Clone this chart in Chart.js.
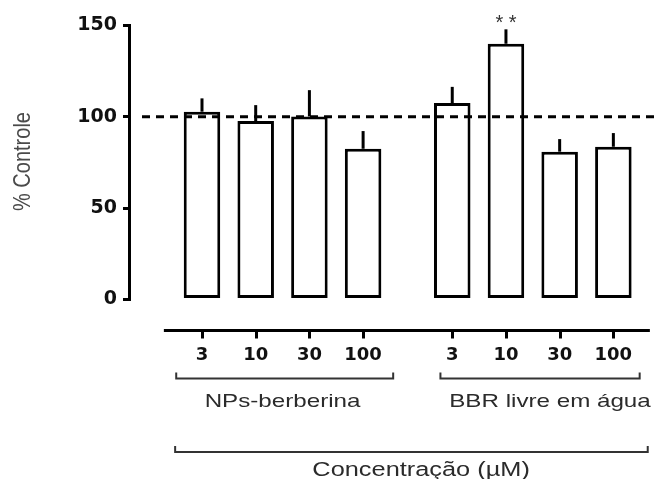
<!DOCTYPE html>
<html>
<head>
<meta charset="utf-8">
<script src="https://cdn.jsdelivr.net/npm/chart.js@4/dist/chart.umd.min.js"></script>
<style>
  html, body { margin: 0; padding: 0; background: #fff; }
  canvas { display: block; }
</style>
</head>
<body>
<canvas id="chart" width="656" height="479"></canvas>
<script>
// Viability (% of control) after berberine exposure, mean + SEM
const doseLabels = ['3', '10', '30', '100', '3', '10', '30', '100'];
const barPositions = [0, 1, 2, 3, 4.66, 5.66, 6.66, 7.66];
const meanValues = [102.8, 97.7, 100.2, 82.5, 107.5, 140, 80.9, 83.6];
const semValues = [7.3, 8.7, 14.4, 9.7, 8.9, 7.9, 6.9, 7.5];
const significance = ['', '', '', '', '', '* *', '', ''];
const yTickValues = [0, 50, 100, 150];
const groupNames = ['NPs-berberina', 'BBR livre em água'];
const axisTitleY = '% Controle';
const axisTitleX = 'Concentração (µM)';
const controlLevel = 100;

// bracket spans and label centres, in x-axis units
const groupBrackets = [[-0.48, 3.56], [4.44, 8.15]];
const groupLabelCenters = [1.5, 6.48];
const outerBracket = [-0.5, 8.30];
const outerLabelCenter = 4.08;
const xAxisSpan = [-0.71, 8.34];

const TEXT_STRETCH = 1.3;

function stretchedText(ctx, text, x, y, font, color, sx) {
  ctx.save();
  ctx.font = font;
  ctx.fillStyle = color;
  ctx.textAlign = 'center';
  ctx.textBaseline = 'alphabetic';
  ctx.translate(x, y);
  ctx.scale(sx, 1);
  ctx.fillText(text, 0, 0);
  ctx.restore();
}

function bracket(ctx, x1, x2, y, h) {
  ctx.beginPath();
  ctx.moveTo(x1, y - h);
  ctx.lineTo(x1, y);
  ctx.lineTo(x2, y);
  ctx.lineTo(x2, y - h);
  ctx.stroke();
}

// vertical value axis, running only from 0 to 150
function drawYAxisLine(chart) {
  const ctx = chart.ctx;
  const area = chart.chartArea;
  const ys = chart.scales.y;
  const yTop = ys.getPixelForValue(yTickValues[yTickValues.length - 1]) - 1.5;
  const yBottom = ys.getPixelForValue(yTickValues[0]) + 1.5;
  ctx.save();
  ctx.setLineDash([]);
  ctx.globalAlpha = 1;
  ctx.globalCompositeOperation = 'source-over';
  ctx.fillStyle = '#000';
  ctx.fillRect(area.left - 3, yTop, 3, yBottom - yTop);
  ctx.restore();
}

const annotations = {
  id: 'annotations',
  afterDatasetsDraw(chart) {
    const ctx = chart.ctx;
    const xs = chart.scales.x, ys = chart.scales.y;
    const area = chart.chartArea;
    ctx.save();
    // reference level at 100 %
    ctx.strokeStyle = '#000';
    ctx.lineWidth = 3;
    ctx.setLineDash([8, 6]);
    ctx.beginPath();
    const yc = ys.getPixelForValue(controlLevel);
    ctx.moveTo(area.left + 11, yc);
    ctx.lineTo(area.right, yc);
    ctx.stroke();
    ctx.setLineDash([]);
    // upper error bars
    barPositions.forEach((p, i) => {
      const x = xs.getPixelForValue(p);
      const y1 = ys.getPixelForValue(meanValues[i]);
      const y2 = ys.getPixelForValue(meanValues[i] + semValues[i]);
      ctx.beginPath();
      ctx.moveTo(x, y1);
      ctx.lineTo(x, y2);
      ctx.stroke();
      if (significance[i]) {
        stretchedText(ctx, significance[i], x, y2 - 0.5, '20px "Liberation Sans", Arial, sans-serif', '#333', 1);
      }
    });
    ctx.restore();
  },
  afterDraw(chart) {
    const ctx = chart.ctx;
    const xs = chart.scales.x;
    const area = chart.chartArea;
    ctx.save();
    ctx.strokeStyle = '#000';
    ctx.lineWidth = 3;
    // detached x axis line with its tick marks
    const xAxisY = area.bottom;
    ctx.beginPath();
    ctx.moveTo(xs.getPixelForValue(xAxisSpan[0]), xAxisY);
    ctx.lineTo(xs.getPixelForValue(xAxisSpan[1]), xAxisY);
    ctx.stroke();
    xs.ticks.forEach(t => {
      const x = Math.round(xs.getPixelForValue(t.value)) + 0.5;
      ctx.beginPath();
      ctx.moveTo(x, xAxisY);
      ctx.lineTo(x, xAxisY + 8);
      ctx.stroke();
    });

    // group brackets and names
    ctx.strokeStyle = '#333';
    ctx.lineWidth = 2;
    const groupFont = '18.6px "Liberation Sans", Arial, sans-serif';
    groupBrackets.forEach((b, i) => {
      bracket(ctx, xs.getPixelForValue(b[0]), xs.getPixelForValue(b[1]), 378.5, 6);
      stretchedText(ctx, groupNames[i], xs.getPixelForValue(groupLabelCenters[i]), 406.5, groupFont, '#2b2b2b', TEXT_STRETCH);
    });
    bracket(ctx, xs.getPixelForValue(outerBracket[0]), xs.getPixelForValue(outerBracket[1]), 452, 6);
    stretchedText(ctx, axisTitleX, xs.getPixelForValue(outerLabelCenter), 475.5,
      '19.5px "Liberation Sans", Arial, sans-serif', '#2b2b2b', TEXT_STRETCH);

    // y axis title
    ctx.save();
    ctx.translate(23, 161.5);
    ctx.rotate(-Math.PI / 2);
    ctx.scale(1, 1.2);
    ctx.font = '20px "Liberation Sans", Arial, sans-serif';
    ctx.fillStyle = '#4a4a4a';
    ctx.textAlign = 'center';
    ctx.textBaseline = 'middle';
    ctx.fillText(axisTitleY, 0, 0);
    ctx.restore();
    ctx.restore();
    drawYAxisLine(chart);
  }
};

new Chart(document.getElementById('chart'), {
  type: 'bar',
  data: {
    datasets: [{
      data: barPositions.map((p, i) => ({ x: p, y: meanValues[i] })),
      backgroundColor: '#fff',
      borderColor: '#000',
      borderWidth: 3,
      borderSkipped: false,
      barPercentage: 0.68,
      categoryPercentage: 1
    }]
  },
  options: {
    responsive: false,
    animation: false,
    devicePixelRatio: 1,
    layout: { padding: { top: 25.5, right: 0, bottom: 0, left: 0 } },
    plugins: { legend: { display: false }, tooltip: { enabled: false } },
    scales: {
      x: {
        type: 'linear',
        offset: false,
        min: -1.322,
        max: 8.454,
        afterBuildTicks: s => { s.ticks = barPositions.map(v => ({ value: v })); },
        afterFit: s => { s.height = 148.5; },
        border: { display: false },
        grid: { display: false, drawTicks: false },
        ticks: {
          autoSkip: false,
          maxRotation: 0,
          padding: 14,
          color: '#111',
          font: { family: '"DejaVu Sans", sans-serif', size: 18, weight: 'bold' },
          callback: (v, i) => doseLabels[i]
        }
      },
      y: {
        min: -17,
        max: 150,
        afterBuildTicks: s => { s.ticks = yTickValues.map(v => ({ value: v })); },
        afterFit: s => { s.width = 131; },
        border: { display: false },
        grid: { drawOnChartArea: false, drawTicks: true, tickLength: 8, lineWidth: 3, color: '#000' },
        ticks: {
          padding: 6,
          color: '#111',
          font: { family: '"DejaVu Sans", sans-serif', size: 19, weight: 'bold' },
          callback: v => String(v)
        }
      }
    }
  },
  plugins: [annotations]
});
</script>
</body>
</html>
